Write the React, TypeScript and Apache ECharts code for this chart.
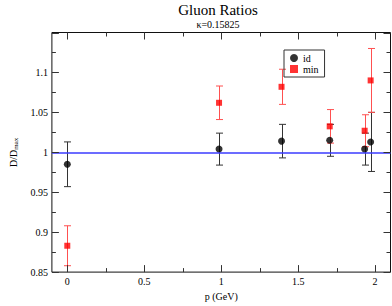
import React, { useEffect, useRef } from "react";
import * as echarts from "echarts";

const momenta = [0, 0.986, 1.392, 1.705, 1.932, 1.971];
const idValues = [0.985, 1.004, 1.014, 1.015, 1.004, 1.013];
const idErrors = [0.028, 0.02, 0.021, 0.02, 0.02, 0.037];
const minValues = [0.883, 1.062, 1.082, 1.0325, 1.027, 1.09];
const minErrors = [0.025, 0.021, 0.022, 0.021, 0.02, 0.04];
const xMajorTicks = [0, 0.5, 1, 1.5, 2];
const xMinorTicks = [0.25, 0.75, 1.25, 1.75];
const yMajorTicks = [0.85, 0.9, 0.95, 1, 1.05, 1.1, 1.15];
const yMinorTicks = [0.875, 0.925, 0.975, 1.025, 1.075, 1.125];
const yLabelValues = [0.85, 0.9, 0.95, 1, 1.05, 1.1];

const FONT = "'Liberation Serif', 'DejaVu Serif', serif";
const X_MIN = -0.1;
const X_MAX = 2.1;
const Y_MIN = 0.85;
const Y_MAX = 1.15;
const MAJOR_LEN = 7;
const MINOR_LEN = 4;
const TICK_COLOR = "#333";

function errorSeries(name: string, values: number[], errs: number[], color: string) {
  return {
    name,
    type: "custom",
    z: 1,
    silent: true,
    data: momenta.map((x, i) => [x, values[i] - errs[i], values[i] + errs[i]]),
    renderItem: (params: any, api: any) => {
      const x = api.value(0);
      const lo = api.coord([x, api.value(1)]);
      const hi = api.coord([x, api.value(2)]);
      const cx = Math.round(lo[0]) + 0.5;
      const hw = 3.5;
      const style = { stroke: color, lineWidth: 1 };
      return {
        type: "group",
        children: [
          { type: "line", shape: { x1: cx, y1: lo[1], x2: cx, y2: hi[1] }, style },
          { type: "line", shape: { x1: cx - hw, y1: lo[1], x2: cx + hw, y2: lo[1] }, style },
          { type: "line", shape: { x1: cx - hw, y1: hi[1], x2: cx + hw, y2: hi[1] }, style },
        ],
      };
    },
  };
}

function tickSeries(name: string, values: number[], isX: boolean, len: number) {
  return {
    name,
    type: "custom",
    silent: true,
    z: 5,
    data: values.map((v) => (isX ? [v, 1] : [0, v])),
    renderItem: (params: any, api: any) => {
      const style = { stroke: TICK_COLOR, lineWidth: 1 };
      if (isX) {
        const v = api.value(0);
        const pb = api.coord([v, Y_MIN]);
        const pt = api.coord([v, Y_MAX]);
        const x = Math.round(pb[0]) + 0.5;
        return {
          type: "group",
          children: [
            { type: "line", shape: { x1: x, y1: pb[1], x2: x, y2: pb[1] - len }, style },
            { type: "line", shape: { x1: x, y1: pt[1], x2: x, y2: pt[1] + len }, style },
          ],
        };
      }
      const v = api.value(1);
      const pl = api.coord([X_MIN, v]);
      const pr = api.coord([X_MAX, v]);
      const y = Math.round(pl[1]) + 0.5;
      return {
        type: "group",
        children: [
          { type: "line", shape: { x1: pl[0], y1: y, x2: pl[0] + len, y2: y }, style },
          { type: "line", shape: { x1: pr[0], y1: y, x2: pr[0] - len, y2: y }, style },
        ],
      };
    },
  };
}

export default function App() {
  const ref = useRef<HTMLDivElement>(null);
  useEffect(() => {
    if (!ref.current) return;
    const chart = echarts.init(ref.current, undefined, { renderer: "svg" });
    chart.setOption({
      animation: false,
      backgroundColor: "#fff",
      title: {
        text: "Gluon Ratios",
        subtext: "κ=0.15825",
        left: 213,
        textAlign: "center",
        top: -3,
        itemGap: 2,
        textStyle: { fontFamily: FONT, fontSize: 15, fontWeight: "normal", color: "#000" },
        subtextStyle: { fontFamily: FONT, fontSize: 10, color: "#000" },
      },
      legend: {
        data: ["id", "min"],
        orient: "vertical",
        left: 284,
        top: 50,
        padding: [3, 6, 3, 6],
        itemWidth: 8,
        itemHeight: 8,
        itemGap: 1,
        borderColor: "#333",
        borderWidth: 1,
        textStyle: { fontFamily: FONT, fontSize: 10, color: "#000" },
      },
      grid: {
        left: 35.5,
        right: 1.5,
        top: 32.5,
        bottom: 23.5,
        show: true,
        borderColor: "#111",
        borderWidth: 1,
        backgroundColor: "transparent",
      },
      xAxis: {
        type: "value",
        min: X_MIN,
        max: X_MAX,
        splitLine: { show: false },
        axisLine: { show: false },
        axisTick: { show: false },
        axisLabel: { show: true, customValues: xMajorTicks, color: "#000", fontFamily: FONT, fontSize: 10, margin: 4 },
        name: "p (GeV)",
        nameLocation: "middle",
        nameGap: 15,
        nameTextStyle: { color: "#000", fontFamily: FONT, fontSize: 10 },
      },
      yAxis: {
        type: "value",
        min: Y_MIN,
        max: Y_MAX,
        splitLine: { show: false },
        axisLine: { show: false },
        axisTick: { show: false },
        axisLabel: { show: true, customValues: yLabelValues, color: "#000", fontFamily: FONT, fontSize: 10, margin: 4 },
        name: "D/D{sub|max}",
        nameLocation: "middle",
        nameGap: 24,
        nameRotate: 90,
        nameTextStyle: {
          color: "#000",
          fontFamily: FONT,
          fontSize: 10,
          rich: { sub: { fontFamily: FONT, fontSize: 7, verticalAlign: "bottom", padding: [6, 0, 0, 0] } },
        },
      },
      series: [
        errorSeries("idErr", idValues, idErrors, "#333"),
        errorSeries("minErr", minValues, minErrors, "#ff5050"),
        tickSeries("xMajor", xMajorTicks, true, MAJOR_LEN),
        tickSeries("xMinor", xMinorTicks, true, MINOR_LEN),
        tickSeries("yMajor", yMajorTicks, false, MAJOR_LEN),
        tickSeries("yMinor", yMinorTicks, false, MINOR_LEN),
        {
          name: "id",
          type: "scatter",
          symbol: "circle",
          symbolSize: 7,
          z: 3,
          itemStyle: { color: "#000" },
          data: momenta.map((x, i) => [x, idValues[i]]),
          markLine: {
            silent: true,
            symbol: ["none", "none"],
            label: { show: false },
            lineStyle: { color: "#3b3bff", width: 1.5, type: "solid" },
            data: [{ yAxis: 1 }],
          },
        },
        {
          name: "min",
          type: "scatter",
          symbol: "rect",
          symbolSize: 6,
          z: 3,
          itemStyle: { color: "#f00" },
          data: momenta.map((x, i) => [x, minValues[i]]),
        },
      ],
    });
    return () => chart.dispose();
  }, []);
  return <div ref={ref} style={{ width: 392, height: 306, position: "absolute", left: 0, top: 0 }} />;
}
